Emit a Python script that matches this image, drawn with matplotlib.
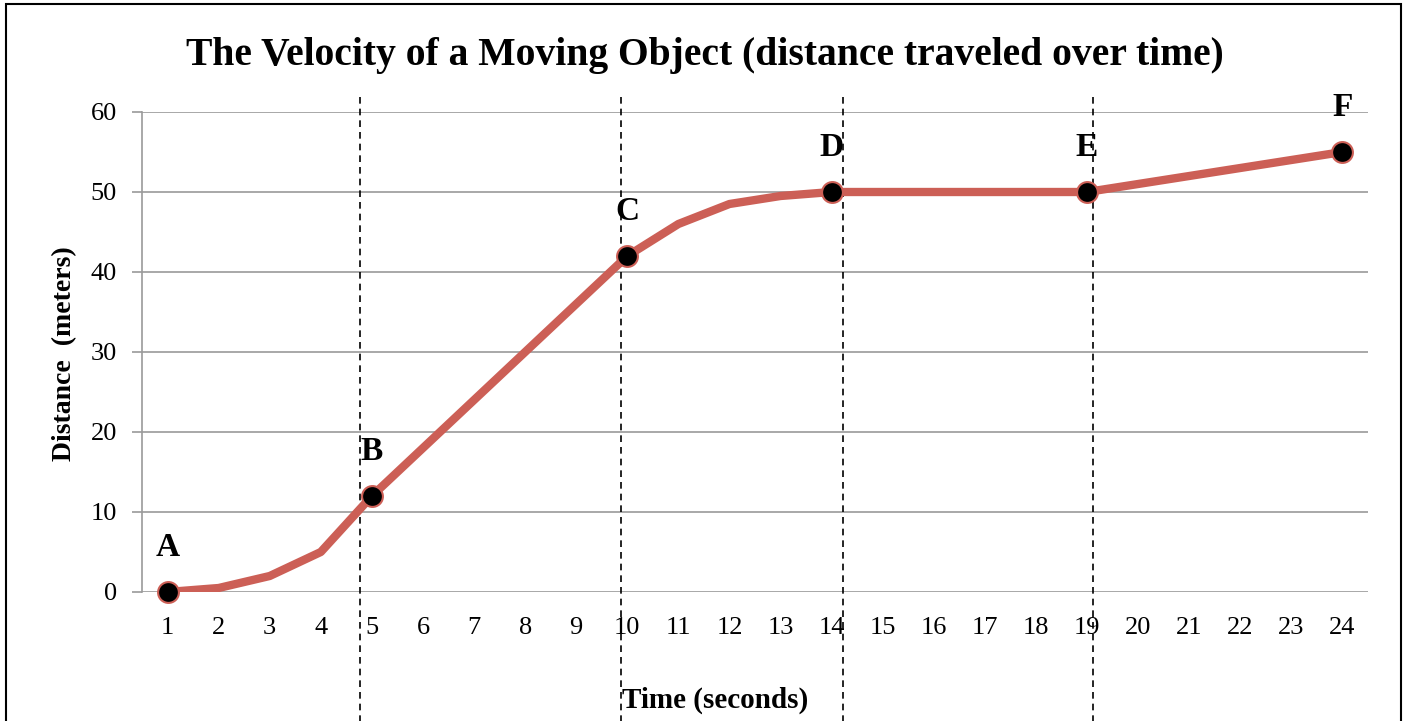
import matplotlib
matplotlib.use("Agg")
import matplotlib.pyplot as plt
from matplotlib.patches import Rectangle

# data
seconds = list(range(1, 25))
distance = [0, 0.5, 2, 5, 12, 18, 24, 30, 36, 42, 46, 48.5, 49.5, 50,
            50, 50, 50, 50, 50, 51, 52, 53, 54, 55]
key_labels = ["A", "B", "C", "D", "E", "F"]
key_seconds = [1, 5, 10, 14, 19, 24]
dividers = [4.76, 9.875, 14.22, 19.12]

LINE = "#cc5f56"
GRID = "#9a9a9a"
plt.rcParams["font.family"] = ["Liberation Serif", "DejaVu Serif"]

W, H = 1409, 721
fig = plt.figure(figsize=(W / 100, H / 100), dpi=100)
ax = fig.add_axes([142 / W, (H - 592) / H, 1226 / W, 480 / H])

# frame around the whole chart (bottom edge falls off the image)
fig.patches.append(Rectangle((6 / W, -0.05), 1395 / W, 1.05 - 4 / H,
                             transform=fig.transFigure, fill=False,
                             edgecolor="black", lw=1.5))

ax.set_xlim(0.5, 24.5)
ax.set_ylim(0, 60)
ax.set_yticks(range(0, 61, 10))
ax.set_xticks(seconds)
ax.grid(axis="y", color=GRID, lw=1.2)
ax.set_axisbelow(True)
for side in ["top", "right", "bottom"]:
    ax.spines[side].set_visible(False)
ax.spines["left"].set_color(GRID)
ax.spines["left"].set_linewidth(1.2)
ax.tick_params(axis="y", length=7, width=1.2, color=GRID, labelsize=19, pad=11)
ax.tick_params(axis="x", length=0, labelsize=19, pad=18)

for xd in dividers:
    ax.axvline(xd, ymin=-0.27, ymax=1.035, clip_on=False, color="black",
               lw=1.2, ls=(0, (4, 3)), zorder=1)

ax.plot(seconds, distance, color=LINE, lw=6, solid_capstyle="round", zorder=3)

key_y = [distance[seconds.index(s)] for s in key_seconds]
ax.plot(key_seconds, key_y, ls="none", marker="o", ms=15, mfc="black",
        mec=LINE, mew=1.5, zorder=4, clip_on=False)
for lab, xs, ys in zip(key_labels, key_seconds, key_y):
    ax.annotate(lab, (xs, ys), xytext=(0, 32), textcoords="offset points",
                ha="center", va="center", fontsize=24, fontweight="bold")

fig.text(705 / W, 1 - 55 / H,
         "The Velocity of a Moving Object (distance traveled over time)",
         ha="center", va="center", fontsize=28.5, fontweight="bold")
fig.text(65 / W, 1 - 354 / H, "Distance  (meters)", rotation=90,
         ha="center", va="center", fontsize=20, fontweight="bold")
fig.text(715 / W, 1 - 700 / H, "Time (seconds)",
         ha="center", va="center", fontsize=21, fontweight="bold")

fig.savefig("out.png", dpi=100)
